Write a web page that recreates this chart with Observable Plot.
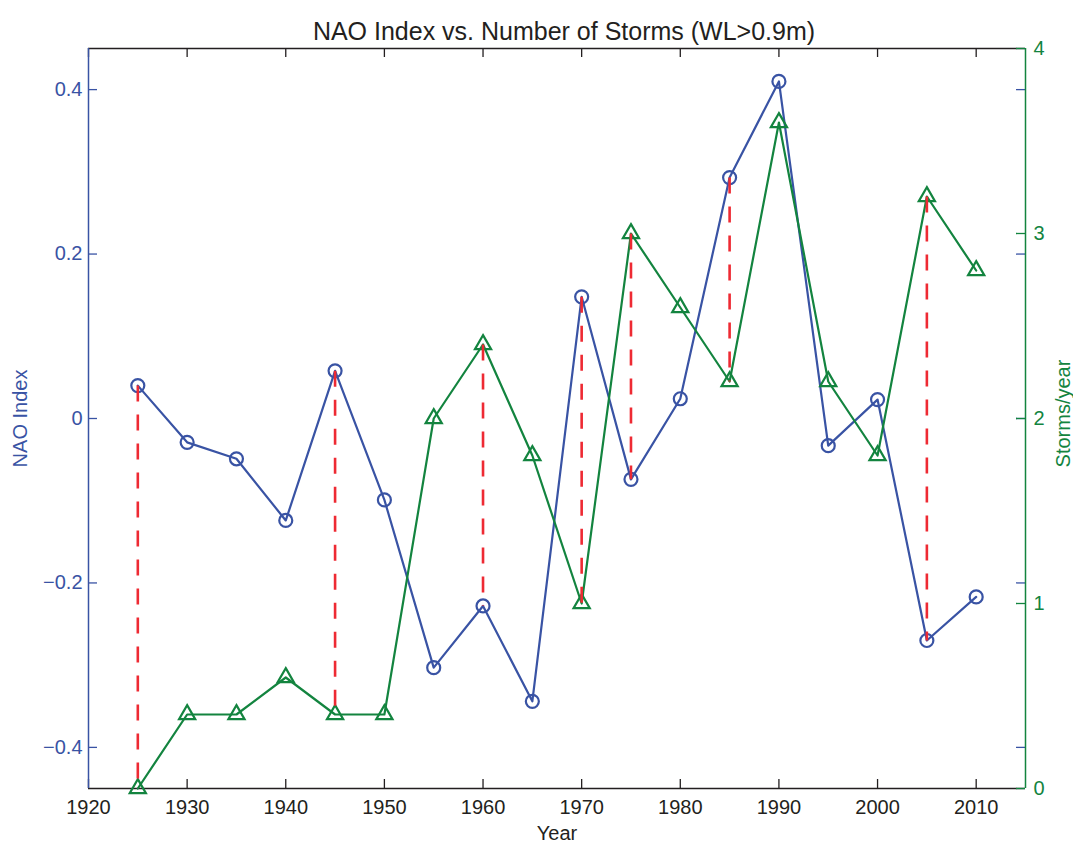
<!DOCTYPE html>
<html>
<head>
<meta charset="utf-8">
<script src="https://cdn.jsdelivr.net/npm/d3@7"></script>
<script src="https://cdn.jsdelivr.net/npm/@observablehq/plot@0.6"></script>
<style>
  body { margin: 0; background: #fff; font-family: "Liberation Sans", Arial, sans-serif; }
  #title { position: relative; height: 30px; z-index: 2; }
  #title span { position: absolute; left: 564px; top: 19px; transform: translateX(-50%);
    font-size: 25px; line-height: 25px; color: #231f20; white-space: nowrap; }
</style>
</head>
<body>
<div id="title"><span>NAO Index vs. Number of Storms (WL&gt;0.9m)</span></div>
<div id="chart"></div>
<script>
const years = [1925, 1930, 1935, 1940, 1945, 1950, 1955, 1960, 1965, 1970, 1975, 1980, 1985, 1990, 1995, 2000, 2005, 2010]
const nao = [0.04, -0.029, -0.049, -0.124, 0.058, -0.099, -0.303, -0.228, -0.344, 0.148, -0.074, 0.024, 0.293, 0.41, -0.033, 0.023, -0.27, -0.217]
const storms = [0, 0.4, 0.4, 0.6, 0.4, 0.4, 2.0, 2.4, 1.8, 1.0, 3.0, 2.6, 2.2, 3.6, 2.2, 1.8, 3.2, 2.8]
// years where a red dashed line joins the two series
const linkedYears = [1925, 1945, 1960, 1970, 1975, 1985, 2005]

const xTicks = [1920, 1930, 1940, 1950, 1960, 1970, 1980, 1990, 2000, 2010]
const naoTicks = [-0.4, -0.2, 0, 0.2, 0.4]
const stormTicks = [0, 1, 2, 3, 4]

const blue = "#3953a4", green = "#13843f", red = "#ee2a33", black = "#231f20"

const W = 1073, H = 813
const mL = 88, mR = 48, mT = 18, mB = 55
const plotW = W - mL - mR, plotH = H - mT - mB
const fs = 20

// storms/year is drawn on the NAO scale (right axis 0..4 -> left axis -0.45..0.45)
const toNao = d3.scaleLinear([0, 4], [-0.45, 0.45])

const data = years.map((year, i) => ({year, nao: nao[i], storms: storms[i]}))
const links = data.filter(d => linkedYears.includes(d.year))

const chart = Plot.plot({
  width: W,
  height: H,
  marginLeft: mL,
  marginRight: mR,
  marginTop: mT,
  marginBottom: mB,
  style: {fontFamily: "Liberation Sans, Arial, sans-serif", fontSize: "20px", background: "none"},
  x: {domain: [1920, 2015], axis: null},
  y: {domain: [-0.45, 0.45], axis: null},
  marks: [
    // inward ticks
    Plot.tickX(xTicks, {x: d => d, insetTop: plotH - 9, stroke: black, strokeWidth: 1.3}),
    Plot.tickX(xTicks, {x: d => d, insetBottom: plotH - 9, stroke: black, strokeWidth: 1.3}),
    Plot.tickY(naoTicks, {y: d => d, insetRight: plotW - 9, stroke: blue, strokeWidth: 1.3}),
    Plot.tickY(naoTicks, {y: d => d, insetLeft: plotW - 9, stroke: blue, strokeWidth: 1.3}),
    // box
    Plot.ruleY([-0.45, 0.45], {stroke: black, strokeWidth: 1.5}),
    Plot.ruleX([1920], {stroke: blue, strokeWidth: 1.5}),
    Plot.ruleX([2015], {stroke: green, strokeWidth: 1.5}),
    Plot.tickY(stormTicks, {y: d => toNao(d), insetLeft: plotW - 9, stroke: green, strokeWidth: 1.3}),
    // series
    Plot.line(data, {x: "year", y: "nao", stroke: blue, strokeWidth: 2.2}),
    Plot.line(data, {x: "year", y: d => toNao(d.storms), stroke: green, strokeWidth: 2.2}),
    Plot.dot(data, {x: "year", y: "nao", r: 6.5, symbol: "circle", stroke: blue, strokeWidth: 2.2, fill: "none"}),
    Plot.dot(data, {x: "year", y: d => toNao(d.storms), r: 6, symbol: "triangle", stroke: green, strokeWidth: 2.2, fill: "none"}),
    Plot.link(links, {
      x1: "year", x2: "year",
      y1: d => Math.max(d.nao, toNao(d.storms)),
      y2: d => Math.min(d.nao, toNao(d.storms)),
      stroke: red, strokeWidth: 2.6, strokeDasharray: "16,13"
    }),
    // tick labels
    Plot.text(xTicks, {x: d => d, frameAnchor: "bottom", dy: 19, lineAnchor: "middle", text: d => String(d), fill: black, fontSize: fs}),
    Plot.text(naoTicks, {y: d => d, frameAnchor: "left", dx: -6, textAnchor: "end", text: d => d3.format("~g")(d), fill: blue, fontSize: fs}),
    Plot.text(stormTicks, {y: d => toNao(d), frameAnchor: "right", dx: 8, textAnchor: "start", text: d => String(d), fill: green, fontSize: fs}),
    // axis titles
    Plot.text(["Year"], {frameAnchor: "bottom", dy: 45, lineAnchor: "middle", textAnchor: "middle", text: d => d, fill: black, fontSize: fs}),
    Plot.text(["NAO Index"], {frameAnchor: "left", dx: -68, rotate: -90, textAnchor: "middle", lineAnchor: "middle", text: d => d, fill: blue, fontSize: fs}),
    Plot.text(["Storms/year"], {frameAnchor: "right", dx: 38, dy: -5, rotate: -90, textAnchor: "middle", lineAnchor: "middle", text: d => d, fill: green, fontSize: fs})
  ]
})
document.getElementById("chart").append(chart)
</script>
</body>
</html>
